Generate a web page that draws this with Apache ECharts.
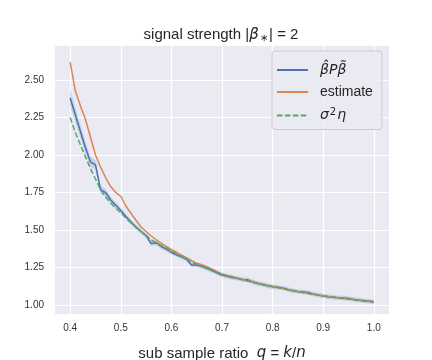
<!DOCTYPE html>
<html>
<head>
<meta charset="utf-8">
<script src="https://cdn.jsdelivr.net/npm/echarts@6/dist/echarts.min.js"></script>
<style>
html, body { margin: 0; padding: 0; background: #fff; }
#chart { width: 432px; height: 360px; }
</style>
</head>
<body>
<div id="chart"></div>
<script>
// sub sample ratio q
var q = [0.40, 0.41, 0.42, 0.43, 0.44, 0.45, 0.46, 0.47, 0.48, 0.49,
         0.50, 0.51, 0.52, 0.53, 0.54, 0.55, 0.56, 0.57, 0.58, 0.59,
         0.60, 0.61, 0.62, 0.63, 0.64, 0.65, 0.66, 0.67, 0.68, 0.69,
         0.70, 0.71, 0.72, 0.73, 0.74, 0.75, 0.76, 0.77, 0.78, 0.79,
         0.80, 0.81, 0.82, 0.83, 0.84, 0.85, 0.86, 0.87, 0.88, 0.89,
         0.90, 0.91, 0.92, 0.93, 0.94, 0.95, 0.96, 0.97, 0.98, 0.99, 1.00];

// beta_hat P beta_tilde (mean)
var bPb = [2.38, 2.27, 2.16, 2.05, 1.955, 1.935, 1.77, 1.75, 1.70, 1.665,
           1.63, 1.59, 1.553, 1.52, 1.49, 1.462, 1.41, 1.415, 1.39, 1.372,
           1.352, 1.335, 1.322, 1.305, 1.266, 1.266, 1.257, 1.245, 1.23, 1.215,
           1.20, 1.192, 1.183, 1.178, 1.17, 1.168, 1.155, 1.143, 1.137, 1.128,
           1.122, 1.118, 1.114, 1.104, 1.095, 1.09, 1.087, 1.084, 1.073, 1.066,
           1.06, 1.055, 1.052, 1.048, 1.046, 1.043, 1.036, 1.032, 1.028, 1.025, 1.02];

// half width of the confidence band around bPb
var bPbBand = [0.06, 0.05, 0.045, 0.04, 0.035, 0.03, 0.028, 0.025, 0.022, 0.02,
               0.018, 0.018, 0.017, 0.017, 0.016, 0.016, 0.016, 0.016, 0.015, 0.015,
               0.015, 0.015, 0.015, 0.015, 0.015, 0.015, 0.015, 0.015, 0.015, 0.015,
               0.015, 0.015, 0.015, 0.015, 0.015, 0.015, 0.015, 0.015, 0.015, 0.015,
               0.015, 0.015, 0.015, 0.015, 0.015, 0.015, 0.015, 0.015, 0.015, 0.015,
               0.015, 0.015, 0.015, 0.015, 0.015, 0.015, 0.015, 0.015, 0.015, 0.015, 0.015];

var estimate = [2.62, 2.43, 2.33, 2.24, 2.12, 2.00, 1.92, 1.85, 1.79, 1.75,
                1.725, 1.66, 1.612, 1.565, 1.52, 1.49, 1.46, 1.435, 1.412, 1.39,
                1.37, 1.352, 1.333, 1.315, 1.295, 1.278, 1.268, 1.255, 1.24, 1.222,
                1.206, 1.197, 1.19, 1.18, 1.17, 1.162, 1.154, 1.146, 1.14, 1.132,
                1.124, 1.117, 1.11, 1.103, 1.096, 1.09, 1.084, 1.078, 1.072, 1.067,
                1.061, 1.056, 1.052, 1.048, 1.044, 1.04, 1.037, 1.033, 1.03, 1.026, 1.022];

// sigma^2 eta
var sigmaEta = [2.25, 2.15, 2.07, 1.99, 1.91, 1.84, 1.77, 1.72, 1.68, 1.645,
                1.615, 1.58, 1.548, 1.518, 1.49, 1.465, 1.435, 1.416, 1.397, 1.379,
                1.36, 1.342, 1.325, 1.308, 1.285, 1.272, 1.259, 1.246, 1.233, 1.219,
                1.206, 1.195, 1.186, 1.177, 1.168, 1.16, 1.152, 1.145, 1.137, 1.13,
                1.123, 1.116, 1.109, 1.102, 1.095, 1.089, 1.083, 1.077, 1.071, 1.066,
                1.06, 1.056, 1.052, 1.048, 1.044, 1.04, 1.036, 1.032, 1.029, 1.025, 1.022];

var xTicks = [0.4, 0.5, 0.6, 0.7, 0.8, 0.9, 1.0];
var yTicks = [1.00, 1.25, 1.50, 1.75, 2.00, 2.25, 2.50];

var blue = '#4C72B0', orange = '#DD8452', green = '#55A868';
var font = '"Liberation Sans", Arial, sans-serif';
var mathFont = '"DejaVu Sans", sans-serif';

function pairs(vals) {
    return q.map(function (x, i) { return [x, vals[i]]; });
}
var bandData = q.map(function (x, i) { return [x, bPb[i] - bPbBand[i], bPb[i] + bPbBand[i]]; });

// band polygon: upper edge left→right, then lower edge right→left
function renderBand(params, api) {
    if (params.dataIndex !== 0) return;
    var upper = [], lower = [];
    for (var i = 0; i < bandData.length; i++) {
        upper.push(api.coord([bandData[i][0], bandData[i][2]]));
        lower.push(api.coord([bandData[i][0], bandData[i][1]]));
    }
    return {
        type: 'polygon',
        shape: { points: upper.concat(lower.reverse()) },
        style: { fill: 'rgba(76,114,176,0.22)' }
    };
}

var chart = echarts.init(document.getElementById('chart'));
chart.setOption({
    animation: false,
    backgroundColor: '#fff',
    title: {
        text: 'signal strength |{i|β}{s|∗}| = 2',
        left: 216,
        top: 22,
        textAlign: 'center',
        textStyle: {
            fontFamily: font, fontSize: 15, fontWeight: 'normal', color: '#262626',
            rich: {
                i: { fontFamily: mathFont, fontSize: 15, fontStyle: 'italic', color: '#262626' },
                s: { fontFamily: mathFont, fontSize: 10, color: '#262626', padding: [6, 1, 0, 1] }
            }
        }
    },
    grid: {
        left: 55, right: 43, top: 46, bottom: 46,
        outerBoundsMode: 'none',
        show: true, backgroundColor: '#EAEAF2', borderWidth: 0
    },
    legend: {
        orient: 'vertical',
        left: 272, top: 51,
        padding: [12, 9, 7, 4],
        itemGap: 8,
        itemWidth: 31, itemHeight: 14,
        itemStyle: { opacity: 0 },
        backgroundColor: 'rgba(234,234,242,0.8)',
        borderColor: '#cccccc', borderWidth: 1, borderRadius: 3,
        data: ['bPb', 'estimate', 'sigmaEta'],
        formatter: function (name) {
            if (name === 'bPb') return '{i|β̂Pβ̃}';
            if (name === 'sigmaEta') return '{i|σ}{sup|2}{i|η}';
            return name;
        },
        textStyle: {
            fontFamily: font, fontSize: 14, color: '#262626', padding: [0, 0, 0, 7],
            rich: {
                i: { fontFamily: mathFont, fontSize: 14, fontStyle: 'italic', color: '#262626' },
                sup: { fontFamily: mathFont, fontSize: 10, color: '#262626', padding: [0, 1, 7, 1] }
            }
        }
    },
    xAxis: {
        type: 'value',
        min: 0.37, max: 1.03,
        name: 'sub sample ratio  {i|q} = {i|k}/{i|n}',
        nameLocation: 'middle',
        nameGap: 32,
        nameTextStyle: {
            fontFamily: font, fontSize: 15, color: '#262626',
            rich: { i: { fontFamily: mathFont, fontSize: 15, fontStyle: 'italic', color: '#262626' } }
        },
        axisLine: { show: false },
        axisTick: { show: false, customValues: xTicks },
        axisLabel: {
            customValues: xTicks, margin: 9,
            fontFamily: font, fontSize: 10, color: '#333',
            formatter: function (v) { return v.toFixed(1); }
        },
        splitLine: { show: true, lineStyle: { color: '#fff', width: 1.2 } }
    },
    yAxis: {
        type: 'value',
        min: 0.94, max: 2.727,
        axisLine: { show: false },
        axisTick: { show: false, customValues: yTicks },
        axisLabel: {
            customValues: yTicks, margin: 11,
            fontFamily: font, fontSize: 10, color: '#333',
            formatter: function (v) { return v.toFixed(2); }
        },
        splitLine: { show: true, lineStyle: { color: '#fff', width: 1.2 } }
    },
    series: [
        {
            name: 'band', type: 'custom', data: bandData, silent: true,
            encode: { x: 0, y: [1, 2] },
            renderItem: renderBand, z: 1
        },
        {
            name: 'bPb', type: 'line', data: pairs(bPb), symbol: 'none', z: 2,
            color: blue, lineStyle: { color: blue, width: 1.5 }
        },
        {
            name: 'estimate', type: 'line', data: pairs(estimate), symbol: 'none', z: 3,
            color: orange, lineStyle: { color: orange, width: 1.5 }
        },
        {
            name: 'sigmaEta', type: 'line', data: pairs(sigmaEta), symbol: 'none', z: 4,
            color: green, lineStyle: { color: green, width: 1.5, type: [5.5, 2.4] }
        }
    ]
});
</script>
</body>
</html>
